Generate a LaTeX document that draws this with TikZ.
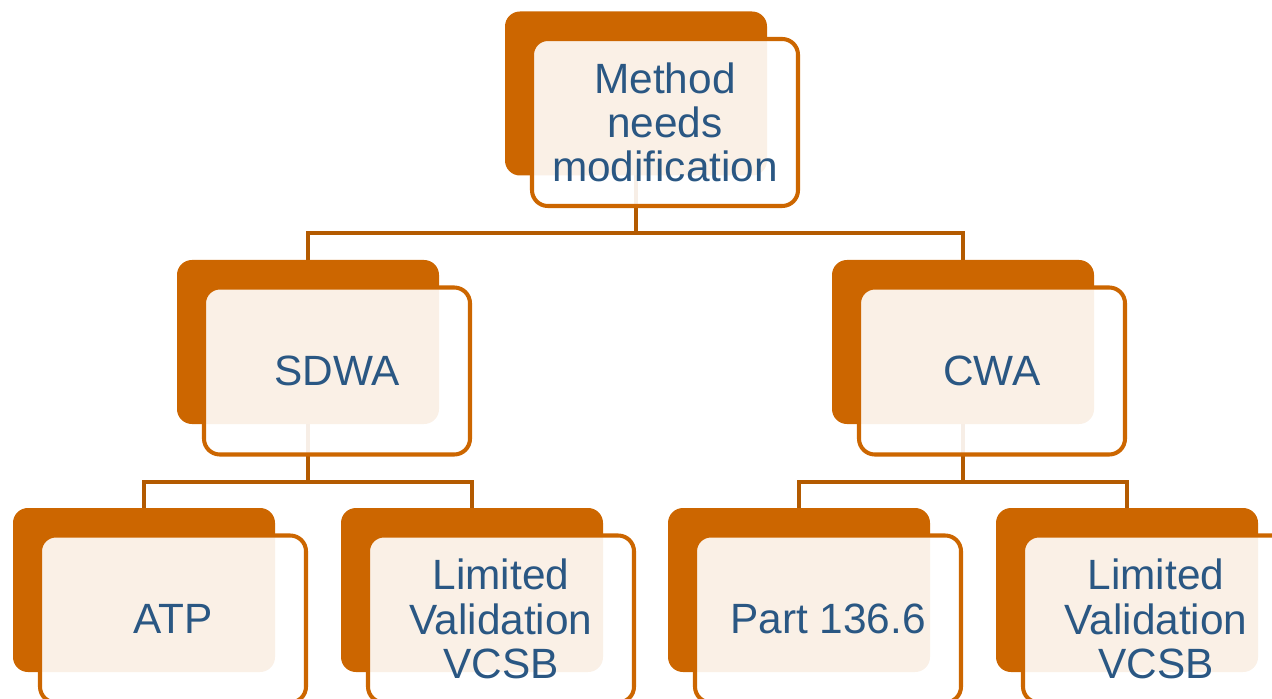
\documentclass[tikz,border=0pt]{standalone}
\usepackage{fontspec}
\setmainfont{Liberation Sans}
\usetikzlibrary{calc,positioning,backgrounds}
\definecolor{rust}{HTML}{CC6600}
\definecolor{rustdark}{HTML}{B35A00}
\definecolor{navy}{HTML}{2A5783}
\tikzset{
  backbox/.style={rectangle,rounded corners=8.5pt,fill=rust,inner sep=0pt,
    minimum width=5.24cm,minimum height=3.28cm},
  frontbox/.style={rectangle,rounded corners=9pt,draw=rust,line width=2.3pt,
    fill=white,fill opacity=.9,text opacity=1,text=navy,inner sep=0pt,
    minimum width=5.32cm,minimum height=3.34cm,align=center,
    font=\fontsize{24.1}{25.2}\selectfont},
  link/.style={draw=rustdark,line width=2.3pt}}

\begin{document}
\begin{tikzpicture}
\useasboundingbox (0,0) rectangle (25.44,-13.98);
\clip (0,0) rectangle (25.44,-13.98);
% dark card behind, pale card in front, shifted down and right
\foreach \name/\pos/\txt in {root/{12.72,-1.87}/{Method\\needs\\modification},
    sdwa/{6.16,-6.84}/SDWA, cwa/{19.26,-6.84}/CWA,
    atp/{2.88,-11.80}/ATP, lvs/{9.44,-11.80}/{Limited\\Validation\\VCSB},
    part/{15.98,-11.80}/{Part 136.6}, lvc/{22.54,-11.80}/{Limited\\Validation\\VCSB}}
  {\node[backbox] (b-\name) at (\pos) {};
   \node[frontbox] (\name) at ([shift={(.58,-.58)}]b-\name) {\txt};}
\begin{pgfonlayer}{background}
\foreach \from/\to in {root/sdwa,root/cwa,sdwa/atp,sdwa/lvs,cwa/part,cwa/lvc}
  \draw[link] (b-\from.center) -- ($(b-\from |- \from.south)+(0,-.5)$) -| (b-\to.north);
\end{pgfonlayer}
\end{tikzpicture}
\end{document}
